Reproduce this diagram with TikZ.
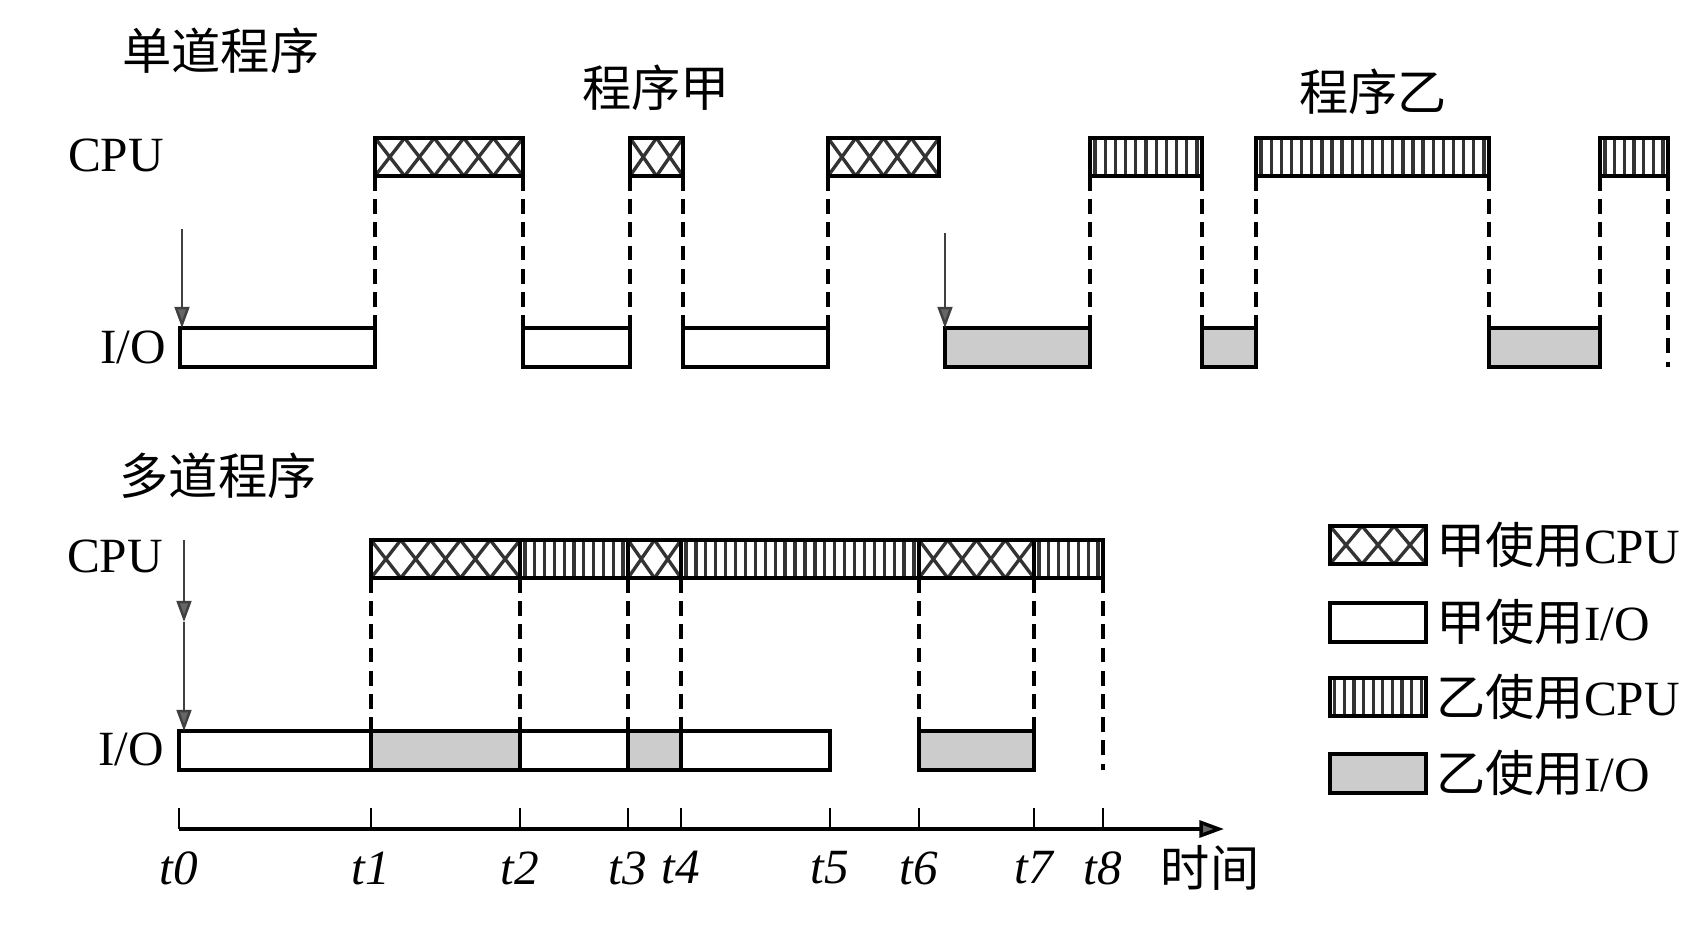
\documentclass[tikz,border=0pt]{standalone}
\usepackage{fontspec}
\setmainfont{Liberation Serif}
\newfontfamily\cjk{Noto Sans CJK SC}
\usetikzlibrary{arrows.meta}

\tikzset{
  bar/.style={line width=1pt},
  hatch/.style={line width=0.95pt, black!80},
  guide/.style={line width=0.9pt, dash pattern=on 4.2pt off 2.4pt},
  down/.style={line width=0.7pt, black!75, -{Triangle[length=6pt,width=4.2pt,fill=black!60]}},
  lbl/.style={font=\fontsize{14}{16}\selectfont},
  zh/.style={font=\fontsize{14}{16}\selectfont\cjk},
}

% CPU slice of program A: crossed box (left x, right x, top y)
\newcommand\jiacpu[3]{%
  \pgfmathtruncatemacro\nx{max(1,round((#2-#1)/28))}%
  \pgfmathsetmacro\wx{(#2-#1)/\nx}%
  \begin{scope}
    \clip (#1,#3) rectangle (#2,#3+38);
    \foreach \i in {1,...,\nx}
      \draw[hatch] ({#1+(\i-1)*\wx},#3) -- ++(\wx,38) ++(0,-38) -- ++(-\wx,38);
  \end{scope}
  \draw[bar] (#1,#3) rectangle (#2,#3+38);
}
% CPU slice of program B: striped box
\newcommand\yicpu[3]{%
  \pgfmathtruncatemacro\nx{max(1,round((#2-#1)/10))}%
  \pgfmathsetmacro\wx{(#2-#1)/\nx}%
  \foreach \i in {1,...,\nx}
    \draw[hatch] ({#1+(\i-0.5)*\wx},#3) -- ++(0,38);
  \draw[bar] (#1,#3) rectangle (#2,#3+38);
}
% I/O slices
\newcommand\jiaio[3]{\draw[bar, fill=white] (#1,#3) rectangle (#2,#3+39);}
\newcommand\yiio[3]{\draw[bar, fill=black!20] (#1,#3) rectangle (#2,#3+39);}

\begin{document}
\begin{tikzpicture}[x=0.01cm, y=-0.01cm]
\useasboundingbox (0,0) rectangle (1696,930);

% Single program
\node[zh] (single) at (221,51) {单道程序};
\node[zh] (progA) at (656,88) {程序甲};
\node[zh] (progB) at (1373,92) {程序乙};
\node[lbl] (cpu1) at (116,155) {CPU};
\node[lbl] (io1) at (133,347) {I/O};

\jiacpu{375}{523}{138} \jiacpu{630}{683}{138} \jiacpu{828}{939}{138}
\jiaio{180}{375}{328} \jiaio{523}{630}{328} \jiaio{683}{828}{328}
\yiio{945}{1090}{328} \yiio{1202}{1256}{328} \yiio{1489}{1600}{328}
\yicpu{1090}{1202}{138} \yicpu{1256}{1489}{138} \yicpu{1600}{1668}{138}

\foreach \x in {375,523,630,683,828,1090,1202,1256,1489,1600}
  \draw[guide] (\x,176) -- (\x,328);
\draw[guide] (1668,176) -- (1668,367);

\coordinate (startA) at (182,229);
\coordinate (startB) at (945,233);
\draw[down] (startA) -- (182,328);
\draw[down] (startB) -- (945,328);

% Multiprogramming
\node[zh] (multi) at (218,476) {多道程序};
\node[lbl] (cpu2) at (115,556) {CPU};
\node[lbl] (io2) at (131,749) {I/O};

\jiacpu{371}{520}{540} \yicpu{520}{628}{540} \jiacpu{628}{681}{540}
\yicpu{681}{919}{540} \jiacpu{919}{1034}{540} \yicpu{1034}{1103}{540}
\jiaio{179}{371}{731} \yiio{371}{520}{731} \jiaio{520}{628}{731}
\yiio{628}{681}{731} \jiaio{681}{830}{731} \yiio{919}{1034}{731}

\foreach \x in {371,520,628,681,919,1034}
  \draw[guide] (\x,578) -- (\x,731);
\draw[guide] (1103,578) -- (1103,770);

\coordinate (start2) at (184,540);
\coordinate (mid2) at (184,622);
\draw[down] (start2) -- (mid2);
\draw[down] (mid2) -- (184,731);

% Time axis
\draw[line width=1pt, -{Triangle[length=7pt,width=4.8pt,fill=black!60]}] (179,829) -- (1224,829);
\foreach \x/\t in {179/0,371/1,520/2,628/3,681/4,830/5,919/6,1034/7,1103/8} {
  \draw[line width=0.7pt] (\x,808) -- (\x,829);
  \node[lbl, font=\fontsize{14}{16}\selectfont\itshape] (t\t) at (\x,868) {t\t};
}
\node[zh] (time) at (1210,868) {时间};

% Legend
\jiacpu{1330}{1426}{526} \jiaio{1330}{1426}{603}
\yicpu{1330}{1426}{678} \yiio{1330}{1426}{754}
\node[lbl, anchor=west] (keyA) at (1424,545) {{\cjk 甲使用}CPU};
\node[lbl, anchor=west] (keyB) at (1424,622) {{\cjk 甲使用}I/O};
\node[lbl, anchor=west] (keyC) at (1424,697) {{\cjk 乙使用}CPU};
\node[lbl, anchor=west] (keyD) at (1424,773) {{\cjk 乙使用}I/O};
\end{tikzpicture}
\end{document}
